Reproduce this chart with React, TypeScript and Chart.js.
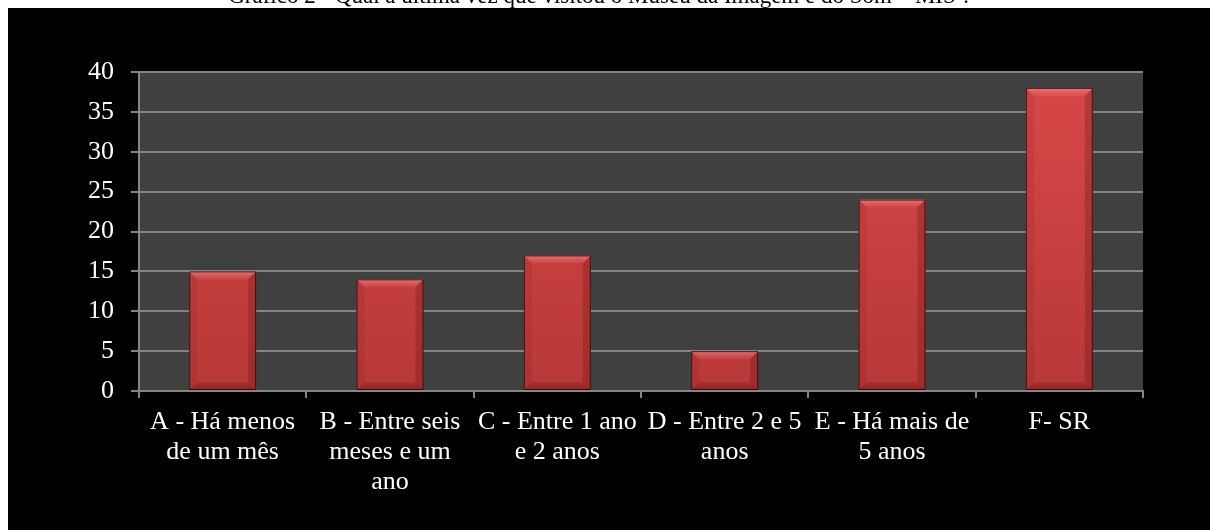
import React, { useEffect, useRef } from "react";
import { Chart, registerables } from "chart.js";

Chart.register(...registerables);

const TITLE = "Gráfico 2 - Qual a última vez que visitou o Museu da Imagem e do Som – MIS ?";

const categories: string[][] = [
  ["A - Há menos", "de um mês"],
  ["B - Entre seis", "meses e um", "ano"],
  ["C - Entre 1 ano", "e 2 anos"],
  ["D - Entre 2 e 5", "anos"],
  ["E - Há mais de", "5 anos"],
  ["F- SR"],
];

const values: number[] = [15, 14, 17, 5, 24, 38];

const yMin = 0;
const yMax = 40;
const yStep = 5;

const FONT = "'Liberation Serif', 'Times New Roman', serif";
const GRID = "#858585";
const PLOT_BG = "#404040";

const backgroundPlugin = {
  id: "plotBackground",
  beforeDraw(chart: any) {
    const { ctx, chartArea, width, height } = chart;
    ctx.save();
    ctx.fillStyle = "#000";
    ctx.fillRect(0, 0, width, height);
    if (chartArea) {
      ctx.fillStyle = PLOT_BG;
      ctx.fillRect(chartArea.left, chartArea.top, chartArea.right - chartArea.left, chartArea.bottom - chartArea.top);
    }
    ctx.restore();
  },
};

function poly(ctx: CanvasRenderingContext2D, pts: number[][], fill: any) {
  ctx.beginPath();
  ctx.moveTo(pts[0][0], pts[0][1]);
  for (let i = 1; i < pts.length; i++) ctx.lineTo(pts[i][0], pts[i][1]);
  ctx.closePath();
  ctx.fillStyle = fill;
  ctx.fill();
}

const bevelPlugin = {
  id: "bevel",
  afterDatasetsDraw(chart: any) {
    const ctx: CanvasRenderingContext2D = chart.ctx;
    const meta = chart.getDatasetMeta(0);
    meta.data.forEach((bar: any) => {
      const { x, y, base, width } = bar.getProps(["x", "y", "base", "width"], true);
      const l = x - width / 2;
      const r = x + width / 2;
      const t = Math.min(y, base);
      const b = Math.max(y, base);
      const s = Math.min(8, (b - t) / 2);
      ctx.save();
      const gt = ctx.createLinearGradient(0, t, 0, t + s);
      gt.addColorStop(0, "rgba(255,160,160,0.55)");
      gt.addColorStop(1, "rgba(255,120,120,0.12)");
      poly(ctx, [[l, t], [r, t], [r - s, t + s], [l + s, t + s]], gt);
      const gb = ctx.createLinearGradient(0, b - s, 0, b);
      gb.addColorStop(0, "rgba(80,10,10,0.15)");
      gb.addColorStop(1, "rgba(80,10,10,0.45)");
      poly(ctx, [[l, b], [r, b], [r - s, b - s], [l + s, b - s]], gb);
      poly(ctx, [[r, t], [r, b], [r - s, b - s], [r - s, t + s]], "rgba(60,0,0,0.2)");
      poly(ctx, [[l, t], [l, b], [l + s, b - s], [l + s, t + s]], "rgba(60,0,0,0.08)");
      ctx.strokeStyle = "rgba(25,5,5,0.75)";
      ctx.lineWidth = 1;
      ctx.strokeRect(l + 0.5, t + 0.5, width - 1, b - t - 1);
      ctx.restore();
    });
  },
};

export default function App() {
  const ref = useRef<HTMLCanvasElement>(null);

  useEffect(() => {
    if (!ref.current) return;
    const chart = new Chart(ref.current, {
      type: "bar",
      data: {
        labels: categories,
        datasets: [
          {
            data: values,
            backgroundColor: (c: any) => {
              const { chart } = c;
              const area = chart.chartArea;
              if (!area) return "#c94242";
              const g = chart.ctx.createLinearGradient(0, area.top, 0, area.bottom);
              g.addColorStop(0, "#d84848");
              g.addColorStop(1, "#b83838");
              return g;
            },
            borderWidth: 0,
            barPercentage: 0.4,
            categoryPercentage: 1,
          },
        ],
      },
      options: {
        animation: false,
        responsive: true,
        maintainAspectRatio: false,
        layout: { padding: { left: 0, right: 67, top: 64, bottom: 0 } },
        plugins: {
          legend: { display: false },
          title: { display: false },
          tooltip: { enabled: false },
        },
        scales: {
          x: {
            grid: {
              display: true,
              drawOnChartArea: false,
              drawTicks: true,
              tickLength: 7,
              color: GRID,
              lineWidth: 2,
              offset: true,
            },
            border: { display: true, color: GRID, width: 2 },
            ticks: {
              color: "#ffffff",
              font: { family: FONT, size: 26, lineHeight: 30 / 26 },
              padding: 9,
              maxRotation: 0,
              minRotation: 0,
              autoSkip: false,
            },
            afterFit: (s: any) => {
              s.height = 139;
            },
          },
          y: {
            min: yMin,
            max: yMax,
            grid: { color: GRID, lineWidth: 2, tickLength: 8, drawTicks: true },
            border: { display: true, color: GRID, width: 2 },
            ticks: {
              stepSize: yStep,
              color: "#ffffff",
              font: { family: FONT, size: 26 },
              padding: 17,
            },
            afterFit: (s: any) => {
              s.width = 131;
            },
          },
        },
      },
      plugins: [backgroundPlugin, bevelPlugin],
    });
    return () => chart.destroy();
  }, []);

  return (
    <div>
      <div
        style={{
          position: "fixed",
          left: 0,
          top: -16,
          width: 1200,
          textAlign: "center",
          fontFamily: FONT,
          fontSize: 23,
          lineHeight: "23px",
          color: "#000",
          whiteSpace: "nowrap",
        }}
      >
        {TITLE}
      </div>
      <div
        style={{
          position: "fixed",
          left: 8,
          top: 8,
          width: 1202,
          height: 522,
          background: "#000",
        }}
      >
        <canvas ref={ref} style={{ display: "block" }} />
      </div>
    </div>
  );
}
